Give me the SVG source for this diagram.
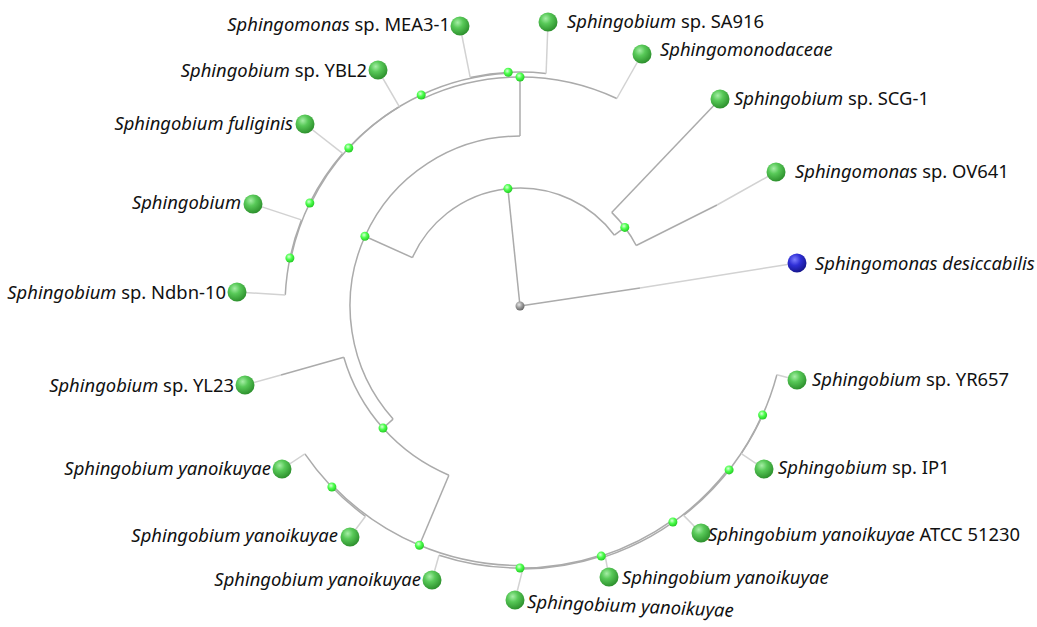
<svg xmlns="http://www.w3.org/2000/svg" width="1037" height="627" viewBox="0 0 1037 627">
<defs>
<radialGradient id="leafG" cx="0.38" cy="0.32" r="0.7">
<stop offset="0" stop-color="#a6eea6"/>
<stop offset="0.4" stop-color="#58c958"/>
<stop offset="1" stop-color="#2c8f2c"/>
</radialGradient>
<radialGradient id="nodeG" cx="0.4" cy="0.35" r="0.7">
<stop offset="0" stop-color="#d8ffd8"/>
<stop offset="0.45" stop-color="#4dff4d"/>
<stop offset="1" stop-color="#1fc41f"/>
</radialGradient>
<radialGradient id="blueG" cx="0.38" cy="0.32" r="0.7">
<stop offset="0" stop-color="#7d7dff"/>
<stop offset="0.45" stop-color="#2f2fd6"/>
<stop offset="1" stop-color="#15158c"/>
</radialGradient>
<radialGradient id="rootG" cx="0.4" cy="0.35" r="0.7">
<stop offset="0" stop-color="#e6e6e6"/>
<stop offset="0.5" stop-color="#9a9a9a"/>
<stop offset="1" stop-color="#5e5e5e"/>
</radialGradient>
<style>
.br{fill:none;stroke:#ababab;stroke-width:1.5}
.lf{fill:none;stroke:#d2d2d2;stroke-width:1.5}
.lab{font-family:"Noto Sans","Open Sans",sans-serif;font-size:18.4px;fill:#111}
.it{font-style:italic}
.end{text-anchor:end}
</style>
</defs>
<rect width="1037" height="627" fill="#fff"/>
<g id="connectors">
<path class="br" d="M520 306 L507.9 188.6"/>
<path class="br" d="M520 306 L640 288"/>
<path class="lf" d="M640 288 L797 263"/>
<path class="br" d="M412.4 257.6 A118 118 0 0 1 614.4 235.2"/>
<path class="br" d="M614.4 235.2 L624.8 227.4"/>
<path class="br" d="M611.7 212.4 A131 131 0 0 1 636.2 245.5"/>
<path class="br" d="M611.7 212.4 L720 99"/>
<path class="br" d="M636.2 245.5 L717 205"/>
<path class="lf" d="M717 205 L776 172"/>
<path class="br" d="M412.4 257.6 L364.9 236.3"/>
<path class="br" d="M393.1 419.1 A170 170 0 0 1 520 136"/>
<path class="br" d="M520 136 L520 77"/>
<path class="br" d="M393.1 419.1 L383 428.1"/>
<path class="br" d="M448.9 475.2 A183.5 183.5 0 0 1 343.8 357.2"/>
<path class="br" d="M343.8 357.2 L281 375"/>
<path class="lf" d="M281 375 L245 385"/>
<path class="br" d="M448.9 475.2 L419.4 545.2"/>
<path class="br" d="M520 565.5 A259.5 259.5 0 0 1 333 485.9"/>
<path class="br" d="M333 485.9 L331.9 487"/>
<path class="br" d="M365.5 516.3 A261 261 0 0 1 304.9 453.8"/>
<path class="lf" d="M304.9 453.8 L282 469"/>
<path class="lf" d="M365.5 516.3 L350 537"/>
<path class="br" d="M520 565.5 L520 568"/>
<path class="br" d="M601 555.2 A262 262 0 0 1 439 555.2"/>
<path class="lf" d="M439 555.2 L432 580"/>
<path class="br" d="M601 555.2 L601.3 556.1"/>
<path class="br" d="M672 520.6 A263 263 0 0 1 522.8 569"/>
<path class="lf" d="M522.8 569 L515 600"/>
<path class="br" d="M672 520.6 L672.9 522"/>
<path class="br" d="M728.3 469.3 A264.7 264.7 0 0 1 605.3 556.6"/>
<path class="lf" d="M605.3 556.6 L609 577"/>
<path class="br" d="M728.3 469.3 L729.1 469.9"/>
<path class="br" d="M762.3 414.9 A265.7 265.7 0 0 1 683.6 515.4"/>
<path class="lf" d="M683.6 515.4 L701 533"/>
<path class="br" d="M762.3 414.9 L762.6 415"/>
<path class="br" d="M776.9 374.8 A266 266 0 0 1 741.3 453.6"/>
<path class="lf" d="M776.9 374.8 L797 380"/>
<path class="lf" d="M741.3 453.6 L764 469"/>
<path class="br" d="M422.9 98.6 A229 229 0 0 1 616.8 98.5"/>
<path class="lf" d="M616.8 98.5 L642 54"/>
<path class="br" d="M422.9 98.6 L421.2 95"/>
<path class="br" d="M348.8 148 A233 233 0 0 1 508.2 73.3"/>
<path class="br" d="M508.2 73.3 L508.2 72.3"/>
<path class="br" d="M470.2 77.4 A234 234 0 0 1 546.1 73.5"/>
<path class="lf" d="M470.2 77.4 L460 26"/>
<path class="lf" d="M546.1 73.5 L548 22"/>
<path class="br" d="M310.8 203.5 A233 233 0 0 1 399.3 106.7"/>
<path class="lf" d="M399.3 106.7 L378 70"/>
<path class="br" d="M310.8 203.5 L309.8 203"/>
<path class="br" d="M290.9 258.1 A234 234 0 0 1 342.6 153.4"/>
<path class="lf" d="M342.6 153.4 L305 124"/>
<path class="br" d="M290.9 258.1 L289.9 258"/>
<path class="br" d="M285.3 294.9 A235 235 0 0 1 301.4 219.9"/>
<path class="lf" d="M285.3 294.9 L237 292"/>
<path class="lf" d="M301.4 219.9 L253 204"/>
</g>
<g id="root"><circle cx="520" cy="306" r="4.5" fill="url(#rootG)"/></g>
<g id="n1"><circle cx="507.9" cy="188.6" r="4.5" fill="url(#nodeG)"/></g>
<g id="nA"><circle cx="624.8" cy="227.4" r="4.5" fill="url(#nodeG)"/></g>
<g id="nB"><circle cx="364.9" cy="236.3" r="4.5" fill="url(#nodeG)"/></g>
<g id="nC"><circle cx="383" cy="428.1" r="4.5" fill="url(#nodeG)"/></g>
<g id="nD"><circle cx="419.4" cy="545.2" r="4.5" fill="url(#nodeG)"/></g>
<g id="nY1"><circle cx="331.9" cy="487" r="4.5" fill="url(#nodeG)"/></g>
<g id="nY3"><circle cx="520" cy="568" r="4.5" fill="url(#nodeG)"/></g>
<g id="nY4"><circle cx="601.3" cy="556.1" r="4.5" fill="url(#nodeG)"/></g>
<g id="nY5"><circle cx="672.9" cy="522" r="4.5" fill="url(#nodeG)"/></g>
<g id="nY6"><circle cx="729.1" cy="469.9" r="4.5" fill="url(#nodeG)"/></g>
<g id="nY7"><circle cx="762.6" cy="415" r="4.5" fill="url(#nodeG)"/></g>
<g id="nE"><circle cx="520" cy="77" r="4.5" fill="url(#nodeG)"/></g>
<g id="nT1"><circle cx="421.2" cy="95" r="4.5" fill="url(#nodeG)"/></g>
<g id="nT2"><circle cx="508.2" cy="72.3" r="4.5" fill="url(#nodeG)"/></g>
<g id="nT3"><circle cx="348.8" cy="148" r="4.5" fill="url(#nodeG)"/></g>
<g id="nT4"><circle cx="309.8" cy="203" r="4.5" fill="url(#nodeG)"/></g>
<g id="nT5"><circle cx="289.9" cy="258" r="4.5" fill="url(#nodeG)"/></g>
<g id="leaf-desiccabilis"><circle cx="797" cy="263" r="9.5" fill="url(#blueG)"/><text class="lab it" x="815" y="270">Sphingomonas desiccabilis</text></g>
<g id="leaf-SCG1"><circle cx="720" cy="99" r="9.5" fill="url(#leafG)"/><text class="lab" x="734" y="105"><tspan class="it">Sphingobium</tspan> sp. SCG-1</text></g>
<g id="leaf-OV641"><circle cx="776" cy="172" r="9.5" fill="url(#leafG)"/><text class="lab" x="795" y="178"><tspan class="it">Sphingomonas</tspan> sp. OV641</text></g>
<g id="leaf-MEA31"><circle cx="460" cy="26" r="9.5" fill="url(#leafG)"/><text class="lab end" x="450" y="31"><tspan class="it">Sphingomonas</tspan> sp. MEA3-1</text></g>
<g id="leaf-SA916"><circle cx="548" cy="22" r="9.5" fill="url(#leafG)"/><text class="lab" x="567" y="28"><tspan class="it">Sphingobium</tspan> sp. SA916</text></g>
<g id="leaf-Sphingomonodaceae"><circle cx="642" cy="54" r="9.5" fill="url(#leafG)"/><text class="lab it" x="660" y="56">Sphingomonodaceae</text></g>
<g id="leaf-YBL2"><circle cx="378" cy="70" r="9.5" fill="url(#leafG)"/><text class="lab end" x="367" y="77"><tspan class="it">Sphingobium</tspan> sp. YBL2</text></g>
<g id="leaf-fuliginis"><circle cx="305" cy="124" r="9.5" fill="url(#leafG)"/><text class="lab it end" x="293" y="130">Sphingobium fuliginis</text></g>
<g id="leaf-Sphingobium"><circle cx="253" cy="204" r="9.5" fill="url(#leafG)"/><text class="lab it end" x="241" y="209">Sphingobium</text></g>
<g id="leaf-Ndbn10"><circle cx="237" cy="292" r="9.5" fill="url(#leafG)"/><text class="lab end" x="226" y="299"><tspan class="it">Sphingobium</tspan> sp. Ndbn-10</text></g>
<g id="leaf-YL23"><circle cx="245" cy="385" r="9.5" fill="url(#leafG)"/><text class="lab end" x="234" y="392"><tspan class="it">Sphingobium</tspan> sp. YL23</text></g>
<g id="leaf-yan1"><circle cx="282" cy="469" r="9.5" fill="url(#leafG)"/><text class="lab it end" x="271" y="475">Sphingobium yanoikuyae</text></g>
<g id="leaf-yan2"><circle cx="350" cy="537" r="9.5" fill="url(#leafG)"/><text class="lab it end" x="338" y="542">Sphingobium yanoikuyae</text></g>
<g id="leaf-yan3"><circle cx="432" cy="580" r="9.5" fill="url(#leafG)"/><text class="lab it end" x="421" y="586">Sphingobium yanoikuyae</text></g>
<g id="leaf-yan4"><circle cx="515" cy="600" r="9.5" fill="url(#leafG)"/><text class="lab it" x="527" y="608" transform="rotate(2.5 527 608)">Sphingobium yanoikuyae</text></g>
<g id="leaf-yan5"><circle cx="609" cy="577" r="9.5" fill="url(#leafG)"/><text class="lab it" x="622" y="584">Sphingobium yanoikuyae</text></g>
<g id="leaf-ATCC"><circle cx="701" cy="533" r="9.5" fill="url(#leafG)"/><text class="lab" x="708" y="541"><tspan class="it">Sphingobium yanoikuyae</tspan> ATCC 51230</text></g>
<g id="leaf-IP1"><circle cx="764" cy="469" r="9.5" fill="url(#leafG)"/><text class="lab" x="778" y="474"><tspan class="it">Sphingobium</tspan> sp. IP1</text></g>
<g id="leaf-YR657"><circle cx="797" cy="380" r="9.5" fill="url(#leafG)"/><text class="lab" x="812" y="386"><tspan class="it">Sphingobium</tspan> sp. YR657</text></g>
</svg>
